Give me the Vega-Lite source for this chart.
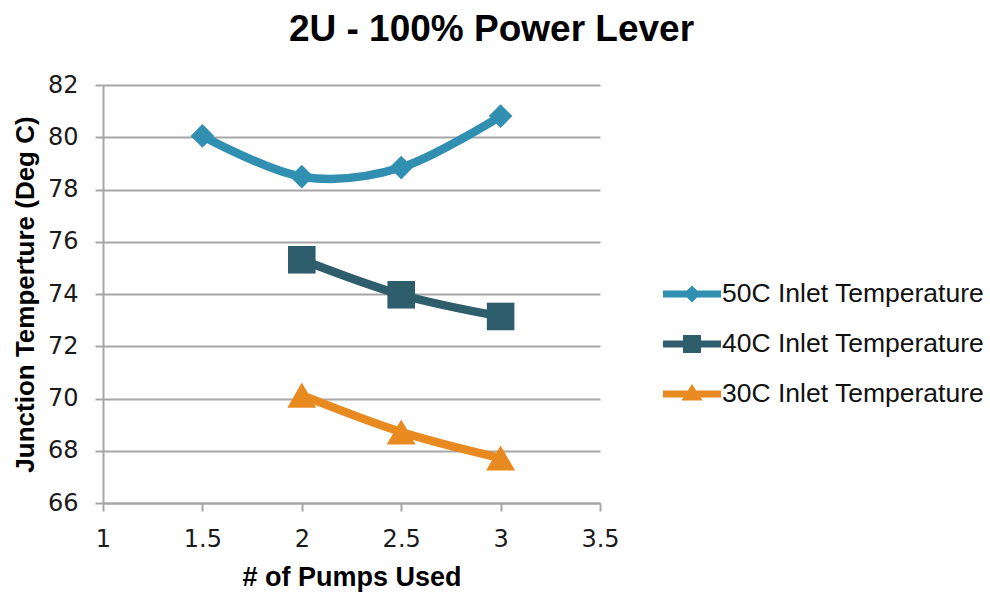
{
  "$schema": "https://vega.github.io/schema/vega-lite/v6.json",
  "width": 497,
  "height": 418,
  "autosize": {"type": "none"},
  "padding": {"left": 103, "top": 85, "right": 390, "bottom": 92},
  "background": "white",
  "title": {
    "text": "2U - 100% Power Lever",
    "fontSize": 37,
    "font": "Liberation Sans",
    "fontWeight": "bold",
    "color": "#000000",
    "anchor": "middle",
    "dx": 140,
    "offset": 24
  },
  "config": {
    "view": {"stroke": null},
    "font": "Liberation Sans"
  },
  "data": {
    "values": [
      {"series": "50C Inlet Temperature", "pumps": 1.5, "temp": 80.05},
      {"series": "50C Inlet Temperature", "pumps": 2, "temp": 78.49},
      {"series": "50C Inlet Temperature", "pumps": 2.5, "temp": 78.84},
      {"series": "50C Inlet Temperature", "pumps": 3, "temp": 80.81},
      {"series": "40C Inlet Temperature", "pumps": 2, "temp": 75.31},
      {"series": "40C Inlet Temperature", "pumps": 2.5, "temp": 73.97},
      {"series": "40C Inlet Temperature", "pumps": 3, "temp": 73.14},
      {"series": "30C Inlet Temperature", "pumps": 2, "temp": 70.13},
      {"series": "30C Inlet Temperature", "pumps": 2.5, "temp": 68.72},
      {"series": "30C Inlet Temperature", "pumps": 3, "temp": 67.72}
    ]
  },
  "encoding": {
    "x": {
      "field": "pumps",
      "type": "quantitative",
      "scale": {"domain": [1, 3.5], "nice": false, "zero": false},
      "axis": {
        "title": "# of Pumps Used",
        "values": [1, 1.5, 2, 2.5, 3, 3.5],
        "format": "~g",
        "grid": false,
        "labelFlush": false,
        "domainColor": "#A6A6A6",
        "domainWidth": 2,
        "tickColor": "#A6A6A6",
        "tickWidth": 2,
        "tickSize": 8,
        "labelFontSize": 24,
        "labelColor": "#1a1a1a",
        "labelPadding": 16,
        "labelFont": "DejaVu Sans",
        "titleFontSize": 27,
        "titleFont": "Liberation Sans",
        "titleFontWeight": "bold",
        "titleColor": "#000000",
        "titlePadding": 13
      }
    },
    "y": {
      "field": "temp",
      "type": "quantitative",
      "scale": {"domain": [66, 82], "nice": false, "zero": false},
      "axis": {
        "title": "Junction Temperture (Deg C)",
        "values": [66, 68, 70, 72, 74, 76, 78, 80, 82],
        "grid": true,
        "labelFlush": false,
        "gridColor": "#A6A6A6",
        "gridWidth": 2,
        "domainColor": "#A6A6A6",
        "domainWidth": 2,
        "tickColor": "#A6A6A6",
        "tickWidth": 2,
        "tickSize": 8,
        "labelFontSize": 24,
        "labelColor": "#1a1a1a",
        "labelPadding": 17,
        "labelFont": "DejaVu Sans",
        "titleFontSize": 26,
        "titleFont": "Liberation Sans",
        "titleFontWeight": "bold",
        "titleColor": "#000000",
        "titlePadding": 9
      }
    },
    "color": {
      "field": "series",
      "type": "nominal",
      "scale": {
        "domain": ["50C Inlet Temperature", "40C Inlet Temperature", "30C Inlet Temperature"],
        "range": ["#3190B2", "#2E5E6C", "#E88A1F"]
      },
      "legend": {
        "title": null,
        "orient": "none",
        "legendX": 569,
        "legendY": 189,
        "padding": 0,
        "symbolSize": 1600,
        "symbolOffset": 0,
        "labelOffset": 10,
        "rowPadding": 16,
        "labelFontSize": 26.5,
        "labelFont": "Liberation Sans",
        "labelColor": "#111111",
        "labelLimit": 400,
        "encode": {
          "symbols": {
            "update": {
              "shape": {"signal": "datum.value == '50C Inlet Temperature' ? 'M-1.45,-0.175 L-0.255,-0.175 L0,-0.43 L0.255,-0.175 L1.45,-0.175 L1.45,0.175 L0.255,0.175 L0,0.43 L-0.255,0.175 L-1.45,0.175 Z' : datum.value == '40C Inlet Temperature' ? 'M-1.45,-0.175 L-0.45,-0.175 L-0.45,-0.45 L0.45,-0.45 L0.45,-0.175 L1.45,-0.175 L1.45,0.175 L0.45,0.175 L0.45,0.45 L-0.45,0.45 L-0.45,0.175 L-1.45,0.175 Z' : 'M-1.45,-0.175 L-0.21,-0.175 L0,-0.5 L0.21,-0.175 L1.45,-0.175 L1.45,0.175 L0.43,0.175 L0.53,0.33 L-0.53,0.33 L-0.43,0.175 L-1.45,0.175 Z'"},
              "fill": {"scale": "color", "field": "value"},
              "fillOpacity": {"value": 1},
              "opacity": {"value": 1},
              "strokeWidth": {"value": 0}
            }
          }
        }
      }
    }
  },
  "layer": [
    {
      "mark": {"type": "line", "strokeWidth": 8.5, "interpolate": "cardinal"}
    },
    {
      "transform": [{"filter": "datum.series == '50C Inlet Temperature'"}],
      "mark": {"type": "point", "filled": true, "opacity": 1, "shape": "diamond", "size": 560}
    },
    {
      "transform": [{"filter": "datum.series == '40C Inlet Temperature'"}],
      "mark": {"type": "point", "filled": true, "opacity": 1, "shape": "square", "size": 760}
    },
    {
      "transform": [{"filter": "datum.series == '30C Inlet Temperature'"}],
      "mark": {"type": "point", "filled": true, "opacity": 1, "shape": "triangle-up", "size": 840}
    }
  ]
}
